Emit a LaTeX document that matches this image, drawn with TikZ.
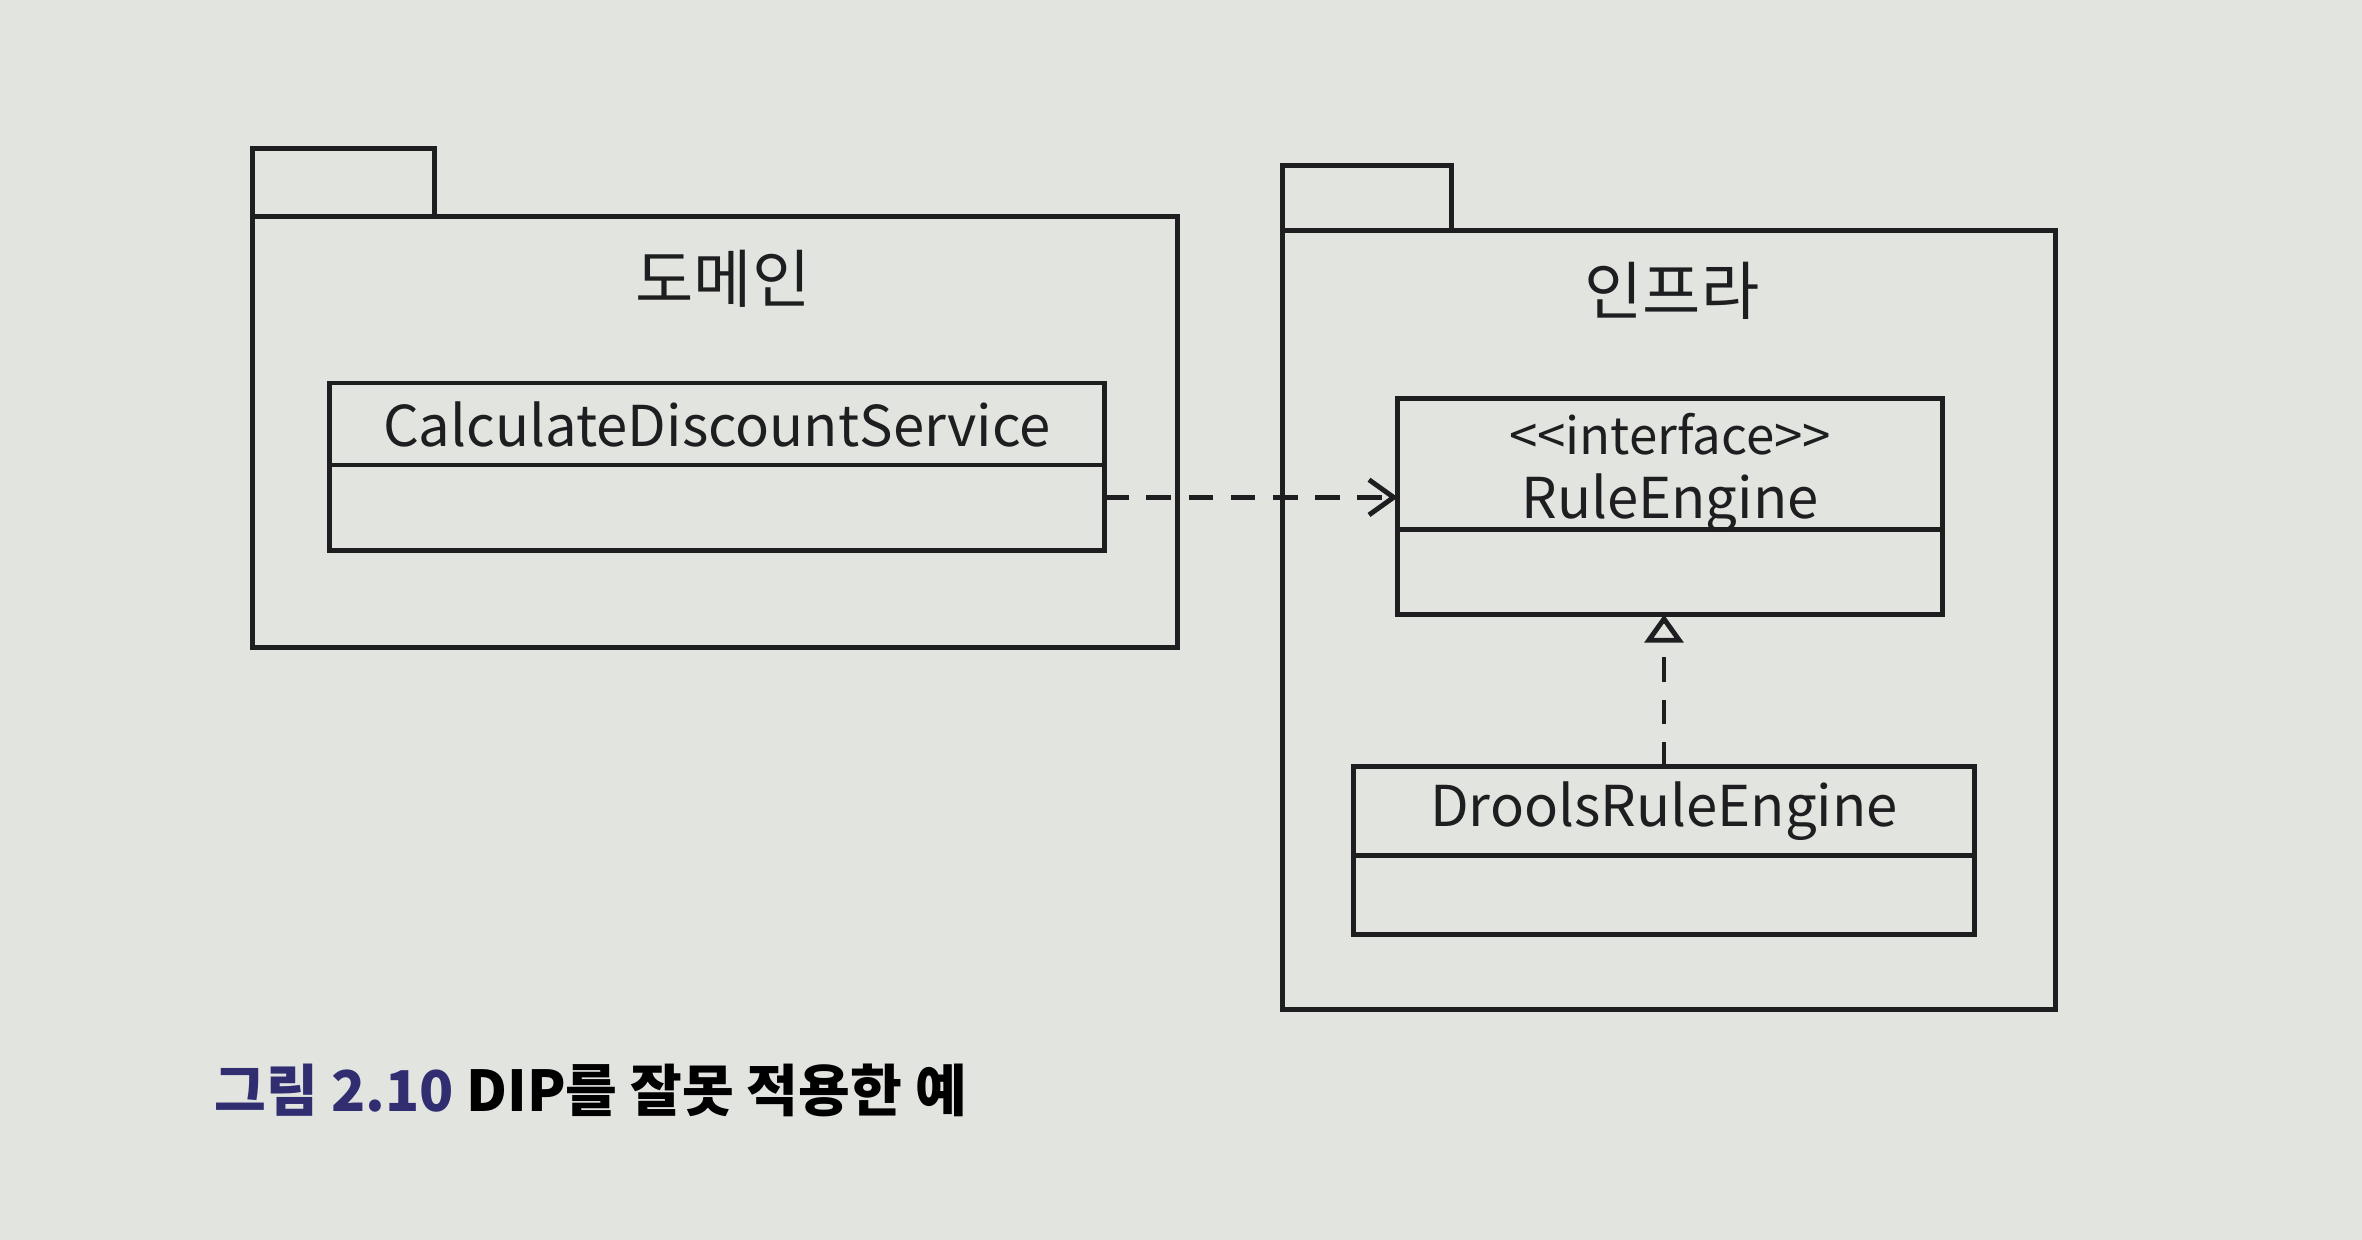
\documentclass[tikz,border=0pt]{standalone}
\usepackage{fontspec}
\setmainfont{Noto Sans CJK KR}
\usetikzlibrary{arrows.meta, calc, positioning}
\definecolor{paper}{RGB}{226,228,224}
\definecolor{ink}{RGB}{30,30,32}
\definecolor{capblue}{RGB}{48,46,112}

\begin{document}
\begin{tikzpicture}[x=0.01cm, y=-0.01cm, >=Stealth,
    pkg/.style={draw=ink, line width=1.4pt, inner sep=0pt, outer sep=0pt},
    pkglabel/.style={text=ink, font=\fontsize{18}{20}\selectfont},
    classhead/.style={draw=ink, line width=1.4pt, inner sep=0pt, outer sep=0pt, text=ink, align=center, font=\fontsize{16}{18}\selectfont},
    classbody/.style={draw=ink, line width=1.4pt, inner sep=0pt, outer sep=0pt},
    dep/.style={draw=ink, line width=1.4pt, dash pattern=on 7pt off 5pt, -{Straight Barb[length=7pt, width=10pt]}},
    impl/.style={draw=ink, line width=1.4pt, dash pattern=on 7pt off 5pt, -{Triangle[open, length=8pt, width=11pt]}}]

    % Page
    \fill[paper] (0,0) rectangle (2362,1240);
    \useasboundingbox (0,0) rectangle (2362,1240);

    % Domain package
    \node[pkg, minimum width=9.25cm, minimum height=4.31cm] (domain) at (715,432) {};
    \node[pkg, minimum width=1.82cm, minimum height=0.68cm, anchor=south west] (domainTab) at (domain.north west) {};
    \node[pkglabel] (domainLabel) at (723,279) {도메인};

    \node[classhead, minimum width=7.74cm, minimum height=0.82cm] (cdsHead) at (717,424) {CalculateDiscountService};
    \node[classbody, minimum width=7.74cm, minimum height=0.85cm, below=0pt of cdsHead] (cdsBody) {};

    % Infra package
    \node[pkg, minimum width=7.72cm, minimum height=7.78cm] (infra) at (1669,620) {};
    \node[pkg, minimum width=1.69cm, minimum height=0.65cm, anchor=south west] (infraTab) at (infra.north west) {};
    \node[pkglabel] (infraLabel) at (1672,291) {인프라};

    \node[classhead, minimum width=5.44cm, minimum height=1.31cm] (reHead) at (1670,464) {};
    \node[text=ink, align=center, font=\fontsize{16}{18}\selectfont] (reName) at (1670,473) {{\fontsize{14.5}{18}\selectfont <\kern0pt<interface>\kern0pt>}\\RuleEngine};
    \node[classbody, minimum width=5.44cm, minimum height=0.85cm, below=0pt of reHead] (reBody) {};

    \node[classhead, minimum width=6.21cm, minimum height=0.89cm] (drHead) at (1664,811) {DroolsRuleEngine};
    \node[classbody, minimum width=6.21cm, minimum height=0.79cm, below=0pt of drHead] (drBody) {};

    % Dependency and realization
    \coordinate (depStart) at ($(cdsBody.north east)!0.38!(cdsBody.south east)$);
    \draw[dep] (depStart) -- (depStart -| reHead.west);
    \draw[impl] (drHead.north) -- (drHead.north |- reBody.south);

    % Caption
    \node[anchor=west, inner sep=0pt, font=\bfseries\fontsize{16}{20}\selectfont] (caption) at (214,1090) {\textcolor{capblue}{그림 2.10} DIP를 잘못 적용한 예};
\end{tikzpicture}
\end{document}
